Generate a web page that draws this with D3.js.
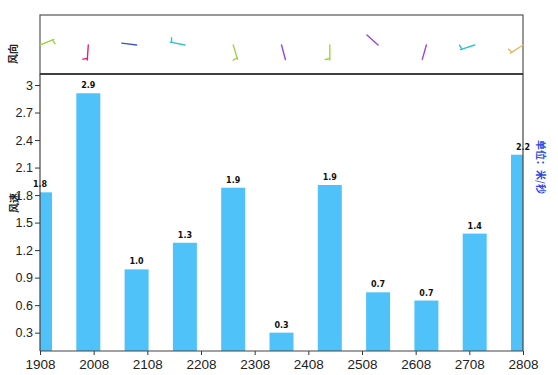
<!DOCTYPE html>
<html><head><meta charset="utf-8">
<script src="https://cdn.jsdelivr.net/npm/d3@7"></script>
<style>body{margin:0;background:#fff}svg{display:block}</style>
</head><body><svg id="c" width="558" height="375"></svg>
<script>
const hours = ["1908","2008","2108","2208","2308","2408","2508","2608","2708","2808","2908"];
const speeds = [1.83, 2.91, 0.99, 1.28, 1.88, 0.30, 1.91, 0.74, 0.65, 1.38, 2.24];
const directions = [68, 184, 277, 281, 163, 165, 180, 312, 196, 252, 237];
const tickLabels = ["1908","2008","2108","2208","2308","2408","2508","2608","2708","2808"];
const yTicks = [0.3, 0.6, 0.9, 1.2, 1.5, 1.8, 2.1, 2.4, 2.7, 3];

const svg = d3.select("#c");
const L = 40, R = 523, T = 15, MID = 74, B = 351;
const x = d3.scalePoint().domain(hours).range([L, R]);
const xt = d3.scalePoint().domain(tickLabels).range([L, R]);
const y = d3.scaleLinear().domain([0.1, 3.12]).range([B, MID]);
const color = d3.scaleThreshold().domain([0.8, 1.15, 1.6, 2.0, 2.5])
  .range(["#9b45d4", "#3d55c8", "#2ec4cc", "#a3d34a", "#f0b660", "#e0207e"]);
const fmt = d3.format(".1f");

svg.append("clipPath").attr("id", "pc").append("rect")
  .attr("x", L).attr("y", MID).attr("width", R - L).attr("height", B - MID);

// bars
svg.append("g").attr("clip-path", "url(#pc)").selectAll("rect").data(speeds).join("rect")
  .attr("x", (d, i) => x(hours[i]) - 12).attr("width", 24)
  .attr("y", d => y(d)).attr("height", d => B - y(d))
  .attr("fill", "#4fc3f9");

// value labels
svg.append("g").selectAll("text").data(speeds).join("text")
  .attr("x", (d, i) => x(hours[i])).attr("y", d => y(d) - 5)
  .attr("text-anchor", "middle").attr("font-family", "DejaVu Sans").attr("font-weight", "bold")
  .attr("font-size", 8).attr("fill", "#111").text(d => fmt(d));

// y axis
const ya = svg.append("g").attr("transform", `translate(${L},0)`)
  .call(d3.axisLeft(y).tickValues(yTicks).tickSize(5).tickSizeOuter(0).tickFormat(d3.format("")));
ya.select(".domain").remove();
ya.selectAll("line").attr("stroke", "#333");
ya.selectAll("text").attr("font-family", "Liberation Sans").attr("font-size", 12.5).attr("fill", "#222").attr("x", -7);

// x axis
const xa = svg.append("g").attr("transform", `translate(0,${B})`)
  .call(d3.axisBottom(xt).tickSize(4).tickSizeOuter(0));
xa.select(".domain").remove();
xa.selectAll("line").attr("stroke", "#333");
xa.selectAll("text").attr("font-family", "Liberation Sans").attr("font-size", 13.5).attr("fill", "#222").attr("dy", "0.85em");

// frame lines
const frame = svg.append("g").attr("fill", "none").attr("stroke", "#444").attr("stroke-width", 1.2);
frame.append("rect").attr("x", L).attr("y", T).attr("width", R - L).attr("height", MID - T).attr("stroke", "#555");
frame.append("line").attr("x1", L).attr("x2", R).attr("y1", MID).attr("y2", MID).attr("stroke", "#222").attr("stroke-width", 1.5);
frame.append("line").attr("x1", L).attr("x2", L).attr("y1", MID).attr("y2", B);
frame.append("line").attr("x1", R).attr("x2", R).attr("y1", MID).attr("y2", B);
frame.append("line").attr("x1", L).attr("x2", R).attr("y1", B).attr("y2", B);

// wind barbs
const SY = 45, LEN = 15, FL = 4.5;
const barbs = svg.append("g").attr("fill", "none").attr("stroke-width", 1.4).attr("stroke-linecap", "round");
directions.forEach((dir, i) => {
  const a = dir * Math.PI / 180;
  const dx = Math.sin(a), dy = -Math.cos(a);
  const x0 = x(hours[i]), y0 = SY;
  const x1 = x0 + dx * LEN, y1 = y0 + dy * LEN;
  const c = color(speeds[i]);
  const g = barbs.append("g").attr("stroke", c);
  g.append("line").attr("x1", x0).attr("y1", y0).attr("x2", x1).attr("y2", y1);
  if (speeds[i] > 1.1) {
    const px = -dy, py = dx;
    g.append("line").attr("x1", x1 - dx * 1.5).attr("y1", y1 - dy * 1.5)
      .attr("x2", x1 - dx * 1.5 + px * FL + dx * 1).attr("y2", y1 - dy * 1.5 + py * FL + dy * 1);
  }
});

// titles
svg.append("text").attr("transform", "translate(17,54) rotate(-90)").attr("text-anchor", "middle")
  .attr("font-family", "Noto Sans CJK SC").attr("font-weight", "bold").attr("font-size", 10).attr("fill", "#222").text("风向");
svg.append("text").attr("transform", "translate(18,203) rotate(-90)").attr("text-anchor", "middle")
  .attr("font-family", "Noto Sans CJK SC").attr("font-weight", "bold").attr("font-size", 10).attr("fill", "#222").text("风速");
svg.append("text").attr("transform", "translate(537,167) rotate(90)").attr("text-anchor", "middle")
  .attr("font-family", "Noto Sans CJK SC").attr("font-weight", "bold").attr("font-size", 10).attr("fill", "#3347e0").text("单位：米/秒");
</script></body></html>
